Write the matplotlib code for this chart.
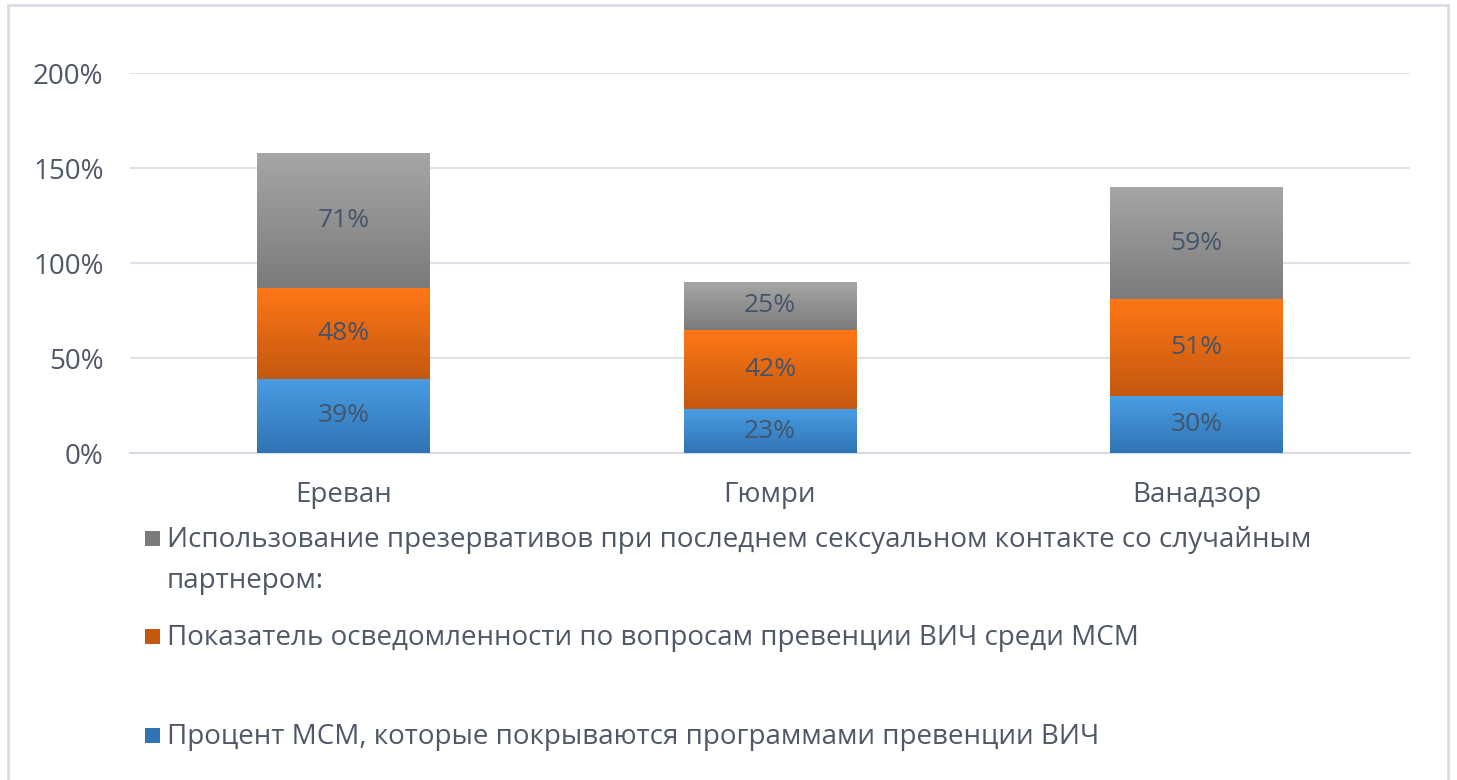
import numpy as np
import matplotlib.pyplot as plt
from matplotlib.colors import LinearSegmentedColormap
from matplotlib.patches import Rectangle
from matplotlib.lines import Line2D

# chart data
cities = ['Ереван', 'Гюмри', 'Ванадзор']
coverage = [39, 23, 30]      # Процент МСМ, которые покрываются программами
awareness = [48, 42, 51]     # Показатель осведомленности
condom_use = [71, 25, 59]    # Использование презервативов

legend_labels = [
    'Использование презервативов при последнем сексуальном контакте со случайным\nпартнером:',
    'Показатель осведомленности по вопросам превенции ВИЧ среди МСМ',
    'Процент МСМ, которые покрываются программами превенции ВИЧ',
]

# gradient colours (top, bottom)
blue = ('#4a9de3', '#2f74b5')
orange = ('#ff7716', '#c4580f')
gray = ('#a6a6a6', '#7b7b7b')

text_col = '#44546a'
tick_col = '#4f5868'
grid_col = '#dde1e8'

plt.rcParams['font.family'] = ['Open Sans', 'DejaVu Sans']

W, H = 1457, 780
fig = plt.figure(figsize=(W / 100, H / 100), dpi=100)
ax = fig.add_axes([130 / W, 1 - 453 / H, 1280 / W, 380 / H])

x = np.arange(len(cities))
width = 0.404


def gradient_bars(bottoms, heights, cols):
    bars = ax.bar(x, heights, width, bottom=bottoms, color='none',
                  edgecolor='none', zorder=3)
    cmap = LinearSegmentedColormap.from_list('g', [cols[1], cols[0]])
    grad = np.linspace(0, 1, 256).reshape(-1, 1)
    for b in bars:
        x0, y0 = b.get_x(), b.get_y()
        im = ax.imshow(grad, cmap=cmap, origin='lower', aspect='auto',
                       extent=[x0, x0 + b.get_width(), y0, y0 + b.get_height()],
                       zorder=3)
        im.set_clip_path(b)
    return bars


b1 = gradient_bars(np.zeros(3), coverage, blue)
bottom2 = np.array(coverage)
b2 = gradient_bars(bottom2, awareness, orange)
bottom3 = bottom2 + np.array(awareness)
b3 = gradient_bars(bottom3, condom_use, gray)

for bars, vals in [(b1, coverage), (b2, awareness), (b3, condom_use)]:
    for b, v in zip(bars, vals):
        ax.text(b.get_x() + b.get_width() / 2, b.get_y() + b.get_height() / 2,
                f'{v}%', ha='center', va='center', fontsize=19,
                color=text_col, zorder=5)

ax.set_xlim(-0.5, 2.5)
ax.set_ylim(0, 200)
ax.set_yticks(np.arange(0, 201, 50))
ax.set_yticklabels([f'{t}%' for t in range(0, 201, 50)])
ax.set_xticks(x)
ax.set_xticklabels(cities)
ax.tick_params(axis='both', length=0, labelsize=20, labelcolor=tick_col)
ax.tick_params(axis='y', pad=19)
ax.tick_params(axis='x', pad=20)
ax.yaxis.grid(True, color=grid_col, linewidth=1.5, zorder=0)
ax.set_axisbelow(True)
for s in ['top', 'right', 'left']:
    ax.spines[s].set_visible(False)
ax.spines['bottom'].set_color('#d6dae2')
ax.spines['bottom'].set_linewidth(1.5)

# legend drawn by hand to follow the reference layout
leg_cols = [gray, orange, blue]
leg_y = [539, 637, 736]
for lab, cols, yy in zip(legend_labels, leg_cols, leg_y):
    fig.patches.append(Rectangle((145 / W, 1 - (yy + 7) / H), 15 / W, 15 / H,
                                 transform=fig.transFigure, facecolor=cols[1],
                                 edgecolor='none'))
    for i, line in enumerate(lab.split('\n')):
        fig.text(167 / W, 1 - (yy + 1 + 41 * i) / H, line, ha='left',
                 va='center', fontsize=20, color=tick_col)

# outer chart frame
for xs, ys in [([8, 8], [H, 5]), ([8, 1448], [5, 5]), ([1448, 1448], [5, H])]:
    fig.add_artist(Line2D([v / W for v in xs], [1 - v / H for v in ys],
                          transform=fig.transFigure, color='#d9dde5', lw=2))

fig.savefig('out.png', dpi=100, facecolor='white')
